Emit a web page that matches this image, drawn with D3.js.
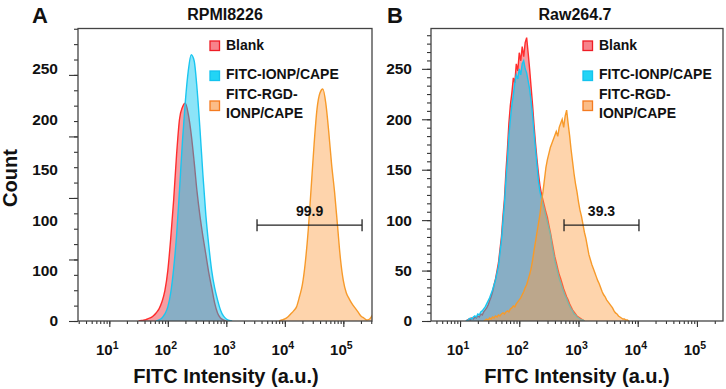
<!DOCTYPE html>
<html>
<head>
<meta charset="utf-8">
<script src="https://cdn.jsdelivr.net/npm/d3@7"></script>
<style>
    body { margin: 0; background: #fff; }
    svg text { font-family: "Liberation Sans", Arial, sans-serif; font-weight: bold; fill: #111; }
</style>
</head>
<body>
<div id="chart"></div>
<script>

// legend / tick labels
var legendLines = [["Blank"], ["FITC-IONP/CAPE"], ["FITC-RGD-", "IONP/CAPE"]];
var decadeTicks = [10, 100, 1000, 10000, 100000];
var decadeSup = ["1", "2", "3", "4", "5"];
var yLabelValues = [0, 50, 100, 150, 200, 250];
var yLabelTextA = ["0", "100", "100", "150", "200", "250"];
var yLabelTextB = ["0", "50", "100", "150", "200", "250"];
var yMax = 290;

// Panel A (RPMI8226): counts per bin, bins start at log10 value and step in log10
var aStep = 0.05;
var aBlankStart = 1.50;
var aBlank = [0, 0.5, 1, 2, 3, 5, 8, 12, 19, 30, 50, 82, 120, 165, 200, 212, 216, 205, 185, 158,
    128, 104, 84, 66, 48, 33, 18, 8, 3, 1, 0];
var aIonpStart = 1.80;
var aIonp = [0, 1, 3, 7, 14, 28, 52, 85, 130, 178, 218, 248, 264, 258, 230, 190, 145, 105, 75, 50,
    33, 21, 11, 5, 2, 0.5, 0];
var aRgdStart = 3.90;
var aRgd = [0, 1, 2, 4, 7, 10, 14, 24, 36, 58, 90, 132, 175, 210, 226, 230, 216, 188, 155, 128,
    95, 62, 40, 28, 22, 17, 13, 9, 5, 3, 1, 2, 6];

// Panel B (Raw264.7)
var bStep = 0.025;
var bBlankStart = 1.10;
var bBlank = [0, 1, 2, 1, 3, 2, 4, 3, 5, 4, 7, 6, 9, 11, 13, 16, 20, 24, 29, 36,
    42, 50, 58, 71, 84, 104, 121, 148, 170, 196, 214, 226, 241, 236, 255, 248, 266, 258, 272, 262,
    276, 281, 266, 250, 232, 214, 194, 176, 160, 146, 134, 126, 120, 114, 108, 103, 95, 88, 80, 72,
    64, 58, 52, 46, 42, 37, 32, 28, 24, 21, 17, 14, 11, 9, 7, 5, 4, 3, 2, 1, 0];
var bIonpStart = 1.10;
var bIonp = [1, 0, 2, 3, 2, 4, 5, 4, 7, 6, 9, 10, 12, 14, 17, 20, 23, 27, 31, 36,
    41, 48, 55, 68, 80, 99, 116, 140, 160, 184, 200, 214, 224, 236, 244, 240, 250, 244, 255, 258,
    250, 246, 238, 230, 218, 204, 186, 170, 154, 138, 128, 122, 116, 110, 104, 98, 92, 86, 76, 68,
    60, 54, 48, 42, 38, 33, 29, 25, 22, 18, 15, 12, 10, 7, 6, 4, 3, 2, 1, 1, 0];
var bRgdStart = 1.40;
var bRgd = [0, 1, 2, 1, 3, 2, 4, 3, 5, 4, 6, 5, 7, 8, 7, 9, 10, 9, 12, 13,
    15, 14, 17, 19, 21, 23, 26, 29, 33, 36, 41, 46, 52, 60, 70, 79, 88, 97, 106, 118,
    128, 140, 152, 160, 166, 172, 176, 180, 184, 188, 183, 192, 196, 200, 192, 203, 209, 196, 184, 170,
    158, 146, 136, 128, 118, 110, 104, 96, 88, 82, 74, 66, 61, 56, 52, 48, 44, 40, 37, 33,
    29, 26, 24, 21, 19, 17, 15, 13, 10, 8, 7, 5, 4, 3, 2, 2, 1, 1, 0];

// gates
var gateA = [3350, 209000], gateALabel = "99.9";
var gateB = [570, 10500], gateBLabel = "39.3";

var colors = {
    fill:   ["rgba(240,60,70,0.5)", "rgba(0,195,240,0.45)", "rgba(252,160,70,0.45)"],
    stroke: ["#ff2d2d", "#19c6f0", "#f79a2a"],
    swatch: ["#f7838b", "#22d4f5", "#fbbd88"],
    swatchStroke: ["#ee1c25", "#13c3ee", "#f47b20"]
};

function toPoints(start, step, counts) {
    return counts.map(function(c, i) { return [Math.pow(10, start + i * step), c]; });
}

var svg = d3.select("#chart").append("svg")
    .attr("width", 726)
    .attr("height", 389);

/*
 * FlowPanel - one histogram panel
 */
FlowPanel = function(_svg, _cfg){
    this.svg = _svg;
    this.cfg = _cfg;
    this.initVis();
}

FlowPanel.prototype.initVis = function(){
    var vis = this;
    var c = vis.cfg;

    vis.x = d3.scaleLog()
        .domain([Math.pow(10, c.xExp[0]), Math.pow(10, c.xExp[1])])
        .range([c.left, c.right]);
    vis.y = d3.scaleLinear()
        .domain([0, yMax])
        .range([c.bottom, c.top]);

    vis.g = vis.svg.append("g");

    vis.g.append("clipPath").attr("id", "clip" + c.letter)
        .append("rect")
        .attr("x", c.left).attr("y", c.top)
        .attr("width", c.right - c.left).attr("height", c.bottom - c.top);

    var plot = vis.g.append("g").attr("clip-path", "url(#clip" + c.letter + ")");

    var area = d3.area()
        .x(function(d) { return vis.x(d[0]); })
        .y0(vis.y(0))
        .y1(function(d) { return vis.y(d[1]); })
        .curve(c.curve);
    var line = d3.line()
        .x(function(d) { return vis.x(d[0]); })
        .y(function(d) { return vis.y(d[1]); })
        .curve(c.curve);

    c.series.forEach(function(s, i) {
        plot.append("path").attr("d", area(s)).attr("fill", colors.fill[i]);
        plot.append("path").attr("d", line(s)).attr("fill", "none")
            .attr("stroke", colors.stroke[i]).attr("stroke-width", 1.4);
    });

    // x axis: minor and major ticks
    var lo = Math.floor(c.xExp[0]), hi = Math.ceil(c.xExp[1]);
    var minor = [];
    for (var e = lo; e <= hi; e++) {
        for (var m = 1; m <= 9; m++) {
            var v = m * Math.pow(10, e);
            if (v >= vis.x.domain()[0] && v <= vis.x.domain()[1]) minor.push(v);
        }
    }
    vis.g.append("g")
        .attr("transform", "translate(0," + c.bottom + ")")
        .call(d3.axisBottom(vis.x).tickValues(minor).tickSize(3).tickFormat(""))
        .call(function(a) { a.select(".domain").remove(); });
    vis.g.append("g")
        .attr("transform", "translate(0," + c.bottom + ")")
        .call(d3.axisBottom(vis.x).tickValues(decadeTicks).tickSize(6).tickFormat(""))
        .call(function(a) { a.select(".domain").remove(); });

    var xl = vis.g.selectAll(".xlab").data(decadeTicks).enter().append("text")
        .attr("class", "xlab")
        .attr("x", function(d) { return vis.x(d) - 2; })
        .attr("y", c.bottom + 34)
        .attr("text-anchor", "middle")
        .style("font-size", "15px")
        .text("10");
    xl.append("tspan")
        .attr("dy", -6)
        .style("font-size", "10.5px")
        .text(function(d, i) { return decadeSup[i]; });

    // y axis ticks
    vis.g.append("g")
        .attr("transform", "translate(" + c.left + ",0)")
        .call(d3.axisLeft(vis.y).tickValues(d3.range(0, yMax, c.yMinorStep)).tickSize(4).tickFormat(""))
        .call(function(a) { a.select(".domain").remove(); });
    vis.g.append("g")
        .attr("transform", "translate(" + c.left + ",0)")
        .call(d3.axisLeft(vis.y).tickValues(d3.range(0, yMax, c.yMajorStep)).tickSize(9).tickFormat(""))
        .call(function(a) { a.select(".domain").remove(); });
    vis.g.append("g")
        .attr("transform", "translate(" + c.left + ",0)")
        .call(d3.axisLeft(vis.y).tickValues(yLabelValues).tickSize(0).tickPadding(c.yPad)
            .tickFormat(function(d, i) { return c.yLabels[i]; }))
        .call(function(a) {
            a.select(".domain").remove();
            a.selectAll("text").style("font-size", "15.5px")
                .style("font-family", "Liberation Sans, Arial, sans-serif").attr("fill", "#111");
        });
    vis.g.selectAll(".tick line").attr("stroke", "#333").attr("stroke-width", 1.1);

    // frame
    vis.g.append("rect")
        .attr("x", c.left).attr("y", c.top)
        .attr("width", c.right - c.left).attr("height", c.bottom - c.top)
        .attr("fill", "none").attr("stroke", "#444").attr("stroke-width", 1.3);

    // gate
    var gy = vis.y(c.gateY);
    var gate = vis.g.append("g");
    gate.append("line")
        .attr("x1", vis.x(c.gate[0])).attr("x2", vis.x(c.gate[1]))
        .attr("y1", gy).attr("y2", gy)
        .attr("stroke", "#222").attr("stroke-width", 1.3);
    c.gate.forEach(function(v) {
        gate.append("line")
            .attr("x1", vis.x(v)).attr("x2", vis.x(v))
            .attr("y1", gy - 6).attr("y2", gy + 6)
            .attr("stroke", "#222").attr("stroke-width", 1.3);
    });
    gate.append("text")
        .attr("x", (vis.x(c.gate[0]) + vis.x(c.gate[1])) / 2)
        .attr("y", gy - 9)
        .attr("text-anchor", "middle")
        .style("font-size", "14px")
        .text(c.gateLabel);

    // legend
    var leg = vis.g.append("g").attr("transform", "translate(" + c.legendX + ",0)");
    var rowTop = [41, 71, 101];
    var rowBase = [[50], [79], [99, 118]];
    legendLines.forEach(function(lines, i) {
        leg.append("rect")
            .attr("x", 0).attr("y", rowTop[i])
            .attr("width", 9.5).attr("height", 9.5)
            .attr("fill", colors.swatch[i])
            .attr("stroke", colors.swatchStroke[i]).attr("stroke-width", 1.3);
        lines.forEach(function(t, j) {
            leg.append("text")
                .attr("x", 16).attr("y", rowBase[i][j])
                .style("font-size", "14px")
                .text(t);
        });
    });

    // titles
    vis.g.append("text")
        .attr("x", (c.left + c.right) / 2 + c.titleShift).attr("y", 20)
        .attr("text-anchor", "middle")
        .style("font-size", "16px")
        .text(c.title);
    vis.g.append("text")
        .attr("x", c.letterX).attr("y", 23)
        .attr("text-anchor", "middle")
        .style("font-size", "22px")
        .text(c.letter);
    vis.g.append("text")
        .attr("x", (c.left + c.right) / 2 + c.xTitleShift).attr("y", 383)
        .attr("text-anchor", "middle")
        .style("font-size", "20px")
        .text("FITC Intensity (a.u.)");
}

new FlowPanel(svg, {
    letter: "A", letterX: 40, title: "RPMI8226", titleShift: 0, xTitleShift: 1,
    left: 78, right: 372, top: 28.5, bottom: 321,
    xExp: [0.465, 5.49],
    curve: d3.curveMonotoneX,
    series: [toPoints(aBlankStart, aStep, aBlank), toPoints(aIonpStart, aStep, aIonp), toPoints(aRgdStart, aStep, aRgd)],
    yMinorStep: 61 / 4, yMajorStep: 61, yLabels: yLabelTextA, yPad: 20,
    gate: gateA, gateY: 95, gateLabel: gateALabel,
    legendX: 210
});

new FlowPanel(svg, {
    letter: "B", letterX: 395, title: "Raw264.7", titleShift: -2, xTitleShift: 0,
    left: 431, right: 723, top: 28.5, bottom: 321,
    xExp: [0.51, 5.44],
    curve: d3.curveLinear,
    series: [toPoints(bBlankStart, bStep, bBlank), toPoints(bIonpStart, bStep, bIonp), toPoints(bRgdStart, bStep, bRgd)],
    yMinorStep: 50 / 6, yMajorStep: 50, yLabels: yLabelTextB, yPad: 19,
    gate: gateB, gateY: 95, gateLabel: gateBLabel,
    legendX: 583
});

// shared y title
svg.append("text")
    .attr("transform", "translate(17,178) rotate(-90)")
    .attr("text-anchor", "middle")
    .style("font-size", "20px")
    .text("Count");

</script>
</body>
</html>
